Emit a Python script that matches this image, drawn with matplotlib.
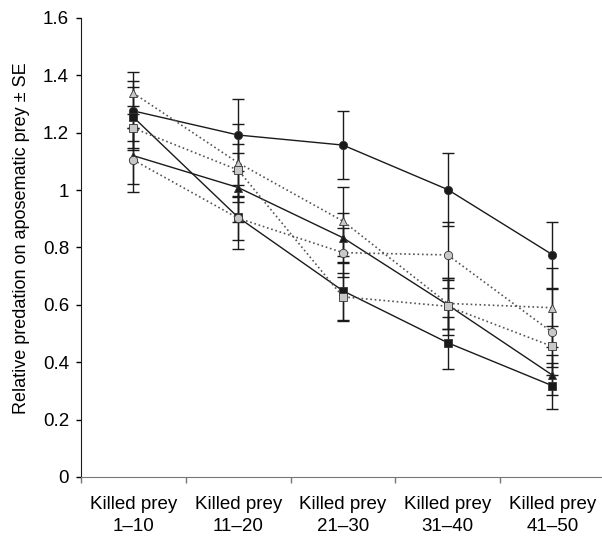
import matplotlib
matplotlib.use('Agg')
import matplotlib.pyplot as plt
import numpy as np

plt.rcParams['font.family'] = ['Liberation Sans', 'DejaVu Sans']

# ---------------------------------------------------------------------------
# data
# ---------------------------------------------------------------------------
categories = ['Killed prey\n1\u201310', 'Killed prey\n11\u201320', 'Killed prey\n21\u201330',
              'Killed prey\n31\u201340', 'Killed prey\n41\u201350']

black_circle = [1.276, 1.192, 1.157, 1.002, 0.775]
black_circle_se = [0.105, 0.127, 0.120, 0.126, 0.115]

black_triangle = [1.120, 1.009, 0.834, 0.600, 0.355]
black_triangle_se = [0.097, 0.120, 0.087, 0.085, 0.070]

black_square = [1.254, 0.905, 0.649, 0.468, 0.318]
black_square_se = [0.106, 0.112, 0.102, 0.090, 0.080]

grey_triangle = [1.338, 1.095, 0.892, 0.605, 0.590]
grey_triangle_se = [0.074, 0.135, 0.120, 0.090, 0.137]

grey_square = [1.216, 1.070, 0.628, 0.595, 0.455]
grey_square_se = [0.076, 0.090, 0.083, 0.100, 0.070]

grey_circle = [1.105, 0.902, 0.782, 0.774, 0.504]
grey_circle_se = [0.111, 0.075, 0.085, 0.116, 0.150]

series = [
    (black_circle, black_circle_se, 'o', '#1a1a1a', '-'),
    (black_triangle, black_triangle_se, '^', '#1a1a1a', '-'),
    (black_square, black_square_se, 's', '#1a1a1a', '-'),
    (grey_triangle, grey_triangle_se, '^', '#c8c8c8', ':'),
    (grey_square, grey_square_se, 's', '#c8c8c8', ':'),
    (grey_circle, grey_circle_se, 'o', '#c8c8c8', ':'),
]

# ---------------------------------------------------------------------------
# plot
# ---------------------------------------------------------------------------
fig = plt.figure(figsize=(6.02, 5.40), dpi=100)
ax = fig.add_axes([0.1346, 0.1167, 0.87, 0.85])

x = np.arange(len(categories))
for vals, se, marker, face, ls in series:
    line_col = '#1a1a1a' if ls == '-' else '#555555'
    ax.errorbar(x, vals, yerr=se, fmt='none', ecolor='#1a1a1a',
                elinewidth=1.0, capsize=4.5, capthick=1.0, zorder=2)
    ax.plot(x, vals, linestyle=ls, color=line_col, linewidth=1.0 if ls == '-' else 1.2,
            marker=marker, markersize=6, markerfacecolor=face,
            markeredgecolor='#333333', markeredgewidth=0.6, zorder=3)

ax.set_xlim(-0.5, len(categories) - 0.5)
ax.set_ylim(0, 1.6)
ax.set_yticks(np.arange(0, 1.61, 0.2))
ax.set_yticklabels(['0', '0.2', '0.4', '0.6', '0.8', '1', '1.2', '1.4', '1.6'])

ax.set_xticks(x)
ax.set_xticklabels(categories, fontsize=13.5, linespacing=1.35)
ax.set_xticks(np.arange(-0.5, len(categories) - 0.5, 1.0), minor=True)
ax.tick_params(axis='x', which='major', length=0, pad=14)
ax.tick_params(axis='x', which='minor', length=4, width=1, color='#777777', direction='out')
ax.tick_params(axis='y', length=3.6, width=1, labelsize=13.5, pad=5, direction='out')

ax.spines['top'].set_visible(False)
ax.spines['right'].set_visible(False)
ax.spines['bottom'].set_color('#777777')
ax.spines['left'].set_color('#1a1a1a')

ax.set_ylabel('Relative predation on aposematic prey \u00b1 SE', fontsize=13)
ax.yaxis.set_label_coords(-0.097, 0.52)

fig.savefig('out.png', dpi=100, facecolor='white')
